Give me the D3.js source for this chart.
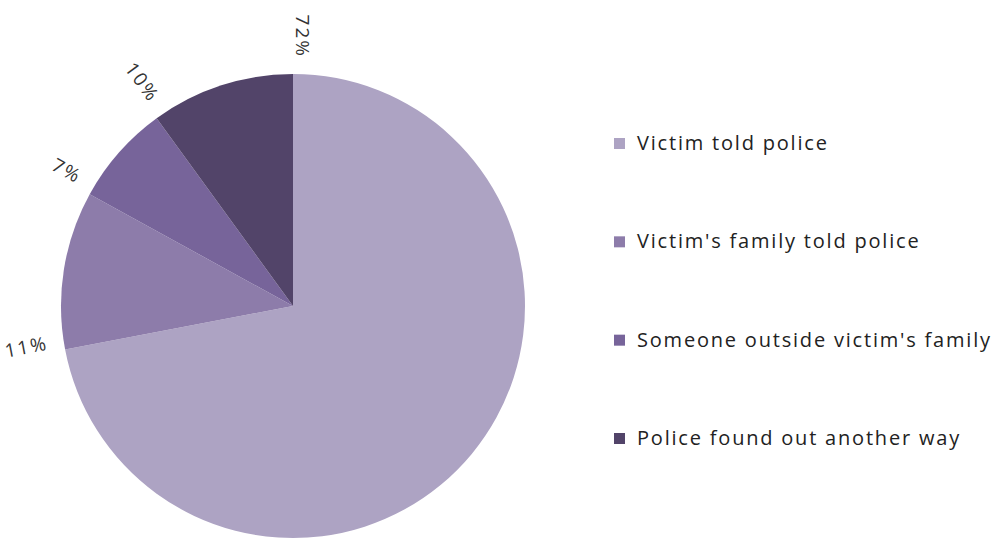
<!DOCTYPE html>
<html><head><meta charset="utf-8">
<script src="https://cdn.jsdelivr.net/npm/d3@7"></script>
<style>body{margin:0;background:#fff;} svg{display:block;}</style>
</head><body>
<svg id="chart" width="997" height="539"></svg>
<script>
const categories = ["Victim told police", "Victim's family told police", "Someone outside victim's family", "Police found out another way"];
const values = [72, 11, 7, 10];
const labels = ["72%", "11%", "7%", "10%"];
const colors = ["#ada3c3", "#8d7caa", "#77649a", "#524469"];

const svg = d3.select("#chart");
const cx = 293, cy = 306, R = 232;
const g = svg.append("g").attr("transform", `translate(${cx},${cy})`);
const pie = d3.pie().sort(null).value(d => d)(values);
const arc = d3.arc().innerRadius(0).outerRadius(R);
g.selectAll("path").data(pie).join("path")
  .attr("d", arc).attr("fill", (d,i) => colors[i]);

const rL = 248;
g.selectAll("text.lbl").data(pie).join("text").attr("class","lbl")
  .attr("transform", d => {
    const a = d.startAngle;
    const x = Math.sin(a) * rL, y = -Math.cos(a) * rL;
    const deg = a * 180 / Math.PI - 270;
    return `translate(${x},${y}) rotate(${deg})`;
  })
  .attr("text-anchor", "end")
  .attr("dy", "-3")
  .attr("font-family", "Open Sans, sans-serif")
  .attr("font-size", 19)
  .attr("letter-spacing", 2)
  .attr("fill", "#333")
  .text((d,i) => labels[i]);

const ly = d3.scalePoint().domain(categories).range([143, 438]);
const leg = svg.append("g");
leg.selectAll("rect").data(categories).join("rect")
  .attr("x", 614).attr("y", d => ly(d) - 5).attr("width", 11).attr("height", 11)
  .attr("fill", (d,i) => colors[i]);
leg.selectAll("text").data(categories).join("text")
  .attr("x", 637).attr("y", d => ly(d)).attr("dy", "0.35em")
  .attr("font-family", "Open Sans, sans-serif").attr("font-size", 20)
  .attr("letter-spacing", 1.8)
  .attr("fill", "#222").text(d => d);
</script>
</body></html>
